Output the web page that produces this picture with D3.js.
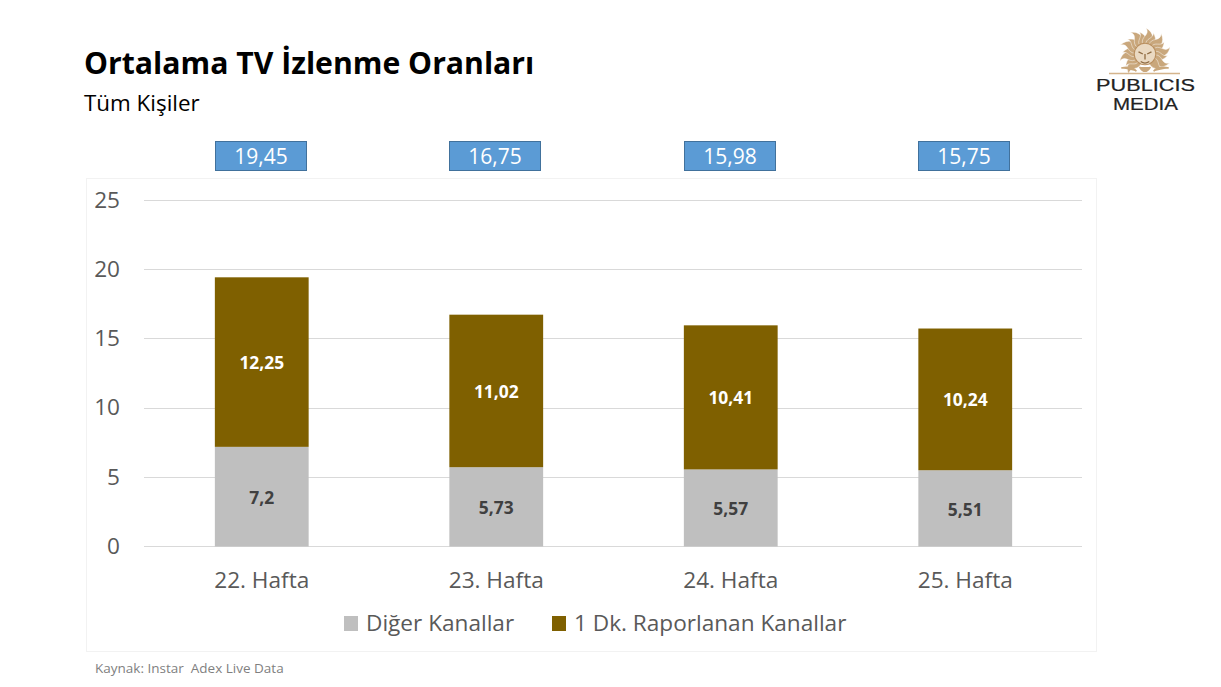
<!DOCTYPE html>
<html>
<head>
<meta charset="utf-8">
<style>
    body { margin: 0; background: #fff; }
    svg { display: block; font-family: "Open Sans", sans-serif; }
    .grid line { stroke: #d9d9d9; stroke-width: 1; shape-rendering: crispEdges; }
    .axis path, .axis line { display: none; }
    .axis text { fill: #595959; font-size: 22.6px; font-family: "Open Sans", sans-serif; }
</style>
</head>
<body>
<svg width="1221" height="687"></svg>
<script src="https://d3js.org/d3.v7.min.js"></script>
<script>
    var weeks = ["22. Hafta", "23. Hafta", "24. Hafta", "25. Hafta"];
    var otherChannels = [7.2, 5.73, 5.57, 5.51];
    var reportedChannels = [12.25, 11.02, 10.41, 10.24];
    var totals = ["19,45", "16,75", "15,98", "15,75"];
    var otherLabels = ["7,2", "5,73", "5,57", "5,51"];
    var reportedLabels = ["12,25", "11,02", "10,41", "10,24"];
    var yTicks = [0, 5, 10, 15, 20, 25];
    var seriesNames = ["Diğer Kanallar", "1 Dk. Raporlanan Kanallar"];
    var seriesColors = ["#bfbfbf", "#7f6000"];

    var svg = d3.select("svg");

    var x = d3.scaleBand().domain(weeks).range([144.5, 1082.5]).paddingInner(0.6).paddingOuter(0.3);
    var y = d3.scaleLinear().domain([0, 25]).range([546.5, 200.5]);
    // the total boxes are placed by hand in the original, a little left of the bars
    var xTotals = d3.scalePoint().domain(weeks).range([261, 963.5]);

    // title
    svg.append("text").attr("x", 84).attr("y", 74)
        .style("font-size", "30.2px").style("font-weight", 700).attr("fill", "#000")
        .text("Ortalama TV İzlenme Oranları");
    svg.append("text").attr("x", 84).attr("y", 111)
        .style("font-size", "22.4px").attr("fill", "#000")
        .text("Tüm Kişiler");

    // chart frame
    svg.append("rect").attr("x", 86.5).attr("y", 178.5).attr("width", 1010).attr("height", 473)
        .attr("fill", "#fff").attr("stroke", "#f2f2f2");

    // grid
    svg.append("g").attr("class", "grid").selectAll("line")
        .data(yTicks).enter().append("line")
        .attr("x1", 144).attr("x2", 1082)
        .attr("y1", d => y(d)).attr("y2", d => y(d));

    // y axis
    svg.append("g").attr("class", "axis").attr("transform", "translate(127,0)")
        .call(d3.axisLeft(y).tickValues(yTicks).tickSize(0).tickPadding(7))
        .selectAll("text").attr("dy", "0.3em");

    // x axis
    svg.append("g").attr("class", "axis").attr("transform", "translate(0,546)")
        .call(d3.axisBottom(x).tickSize(0).tickPadding(0))
        .selectAll("text").attr("y", 42).attr("dy", 0);

    // bars
    svg.append("g").selectAll("rect")
        .data(weeks).enter().append("rect")
        .attr("x", d => x(d)).attr("width", x.bandwidth())
        .attr("y", (d, i) => y(otherChannels[i]))
        .attr("height", (d, i) => y(0) - y(otherChannels[i]))
        .attr("fill", seriesColors[0]);

    svg.append("g").selectAll("rect")
        .data(weeks).enter().append("rect")
        .attr("x", d => x(d)).attr("width", x.bandwidth())
        .attr("y", (d, i) => y(otherChannels[i] + reportedChannels[i]))
        .attr("height", (d, i) => y(0) - y(reportedChannels[i]))
        .attr("fill", seriesColors[1]);

    // bar labels
    svg.append("g").selectAll("text")
        .data(weeks).enter().append("text")
        .attr("x", d => x(d) + x.bandwidth() / 2)
        .attr("y", (d, i) => y(otherChannels[i] / 2) + 7.5)
        .attr("text-anchor", "middle")
        .style("font-size", "17.4px").style("font-weight", 700).attr("fill", "#404040")
        .text((d, i) => otherLabels[i]);

    svg.append("g").selectAll("text")
        .data(weeks).enter().append("text")
        .attr("x", d => x(d) + x.bandwidth() / 2)
        .attr("y", (d, i) => y(otherChannels[i] + reportedChannels[i] / 2) + 7)
        .attr("text-anchor", "middle")
        .style("font-size", "17.4px").style("font-weight", 700).attr("fill", "#fff")
        .text((d, i) => reportedLabels[i]);

    // totals above the bars
    var totalBox = svg.append("g").selectAll("g")
        .data(weeks).enter().append("g")
        .attr("transform", d => "translate(" + Math.round(xTotals(d) + 0.3) + ",156)");
    totalBox.append("rect")
        .attr("x", -45.5).attr("y", -14.5).attr("width", 91).attr("height", 29)
        .attr("fill", "#5b9bd5").attr("stroke", "#41719c");
    totalBox.append("text")
        .attr("text-anchor", "middle").attr("y", 7.5)
        .style("font-size", "21px").attr("fill", "#fff")
        .text((d, i) => totals[i]);

    // legend
    var legendX = [344, 552];
    var legend = svg.append("g").selectAll("g")
        .data(seriesNames).enter().append("g")
        .attr("transform", (d, i) => "translate(" + legendX[i] + ",616)");
    legend.append("rect").attr("width", 14).attr("height", 15)
        .attr("fill", (d, i) => seriesColors[i]);
    legend.append("text").attr("x", 22).attr("y", 15)
        .style("font-size", "22.6px").attr("fill", "#595959")
        .text(d => d);

    // source
    svg.append("text").attr("x", 95).attr("y", 673)
        .style("font-size", "13.5px").attr("fill", "#7f7f7f")
        .style("white-space", "pre")
        .text("Kaynak: Instar  Adex Live Data");

    // logo
    var logo = svg.append("g").attr("transform", "translate(1145,52)");
    var sun = logo.append("g").attr("transform", "translate(0,2) scale(1.08)");
    var rays = d3.range(-135, 136, 18);
    sun.selectAll("path.ray").data(rays).enter().append("path")
        .attr("class", "ray")
        .attr("d", (d, i) => i % 2
            ? "M-3,-8 C-7,-13 1,-16 -2,-21 C4,-17 5,-12 3,-8 Z"
            : "M-3,-8 C-8,-15 3,-18 -3,-24 C6,-21 6,-13 3,-8 Z")
        .attr("transform", d => "rotate(" + d + ")")
        .attr("fill", "#c9a77c").attr("stroke", "#fff").attr("stroke-width", 0.4);
    sun.append("circle").attr("r", 10).attr("fill", "#ead9c2").attr("stroke", "#b98f5f");
    sun.append("path").attr("d", "M-6,-2 L-2,0 M6,-2 L2,0 M0,0 L0,5 M-4,7 Q0,10 4,7")
        .attr("fill", "none").attr("stroke", "#8f6b42").attr("stroke-width", 1.2);
    sun.append("path").attr("d", "M-22,13 Q-12,11 -8,16 M22,13 Q12,11 8,16 M-5,12 Q0,20 5,12")
        .attr("fill", "#c9a77c").attr("stroke", "#c9a77c").attr("stroke-width", 1.5);
    logo.append("line").attr("x1", -36).attr("x2", 35).attr("y1", 21.5).attr("y2", 21.5)
        .attr("stroke", "#d4b48c").attr("stroke-width", 1.5);
    logo.append("text").attr("x", -49).attr("y", 39)
        .attr("textLength", 99).attr("lengthAdjust", "spacingAndGlyphs")
        .style("font-family", "Liberation Sans").style("font-size", "16px")
        .attr("fill", "#222").attr("stroke", "#222").attr("stroke-width", 0.2)
        .text("PUBLICIS");
    logo.append("text").attr("x", -32).attr("y", 58)
        .attr("textLength", 65).attr("lengthAdjust", "spacingAndGlyphs")
        .style("font-family", "Liberation Sans").style("font-size", "16px")
        .attr("fill", "#222").attr("stroke", "#222").attr("stroke-width", 0.2)
        .text("MEDIA");
</script>
</body>
</html>
